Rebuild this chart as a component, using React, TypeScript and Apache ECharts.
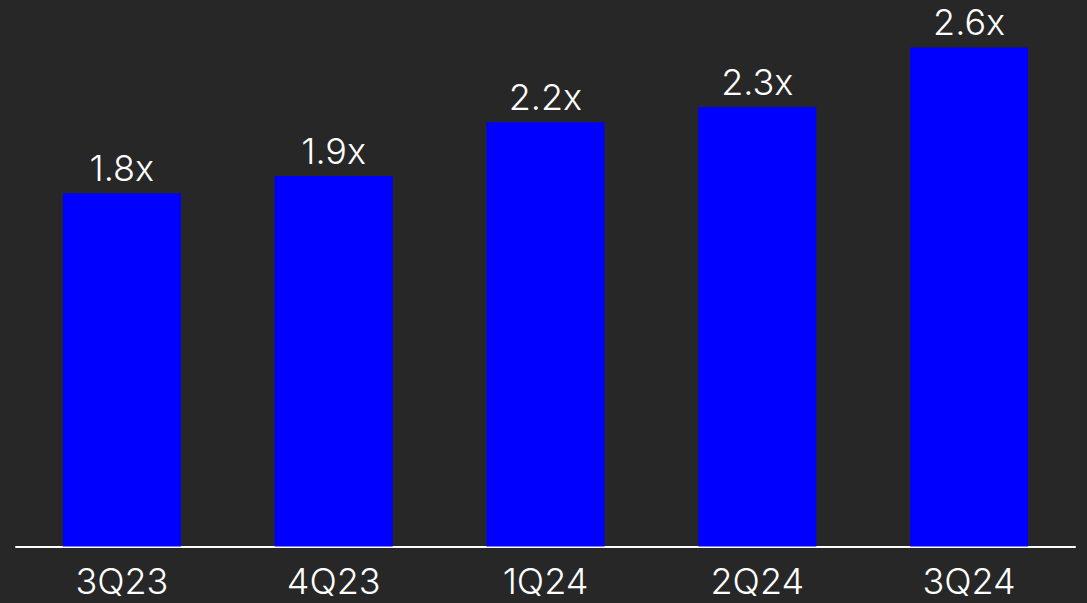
import React, { useEffect, useRef } from "react";
import * as echarts from "echarts";

const categories = ["3Q23", "4Q23", "1Q24", "2Q24", "3Q24"];
const values = [1.84, 1.93, 2.21, 2.29, 2.6];

export default function App() {
  const ref = useRef<HTMLDivElement>(null);
  useEffect(() => {
    if (!ref.current) return;
    const chart = echarts.init(ref.current, undefined, { renderer: "svg" });
    chart.setOption({
      animation: false,
      backgroundColor: "#272727",
      grid: { left: 16, right: 12, top: 9, bottom: 56.5, containLabel: false },
      xAxis: {
        type: "category",
        data: categories,
        axisLine: { show: true, lineStyle: { color: "#ffffff", width: 2 } },
        axisTick: { show: false },
        axisLabel: {
          color: "#ffffff",
          fontSize: 36,
          fontWeight: 300,
          fontFamily: "Inter",
          margin: 16,
        },
      },
      yAxis: {
        type: "value",
        min: 0,
        max: 2.8,
        show: false,
        splitLine: { show: false },
      },
      series: [
        {
          type: "bar",
          data: values,
          barWidth: 118,
          itemStyle: { color: "#0000ff" },
          label: {
            show: true,
            position: "top",
            distance: 10,
            lineHeight: 30,
            color: "#ffffff",
            fontSize: 36,
            fontWeight: 300,
            fontFamily: "Inter",
            formatter: (p: any) => Number(p.value).toFixed(1) + "x",
          },
        },
      ],
    });
    return () => chart.dispose();
  }, []);
  return (
    <div
      ref={ref}
      style={{ position: "fixed", left: 0, top: 0, width: 1087, height: 603 }}
    />
  );
}
